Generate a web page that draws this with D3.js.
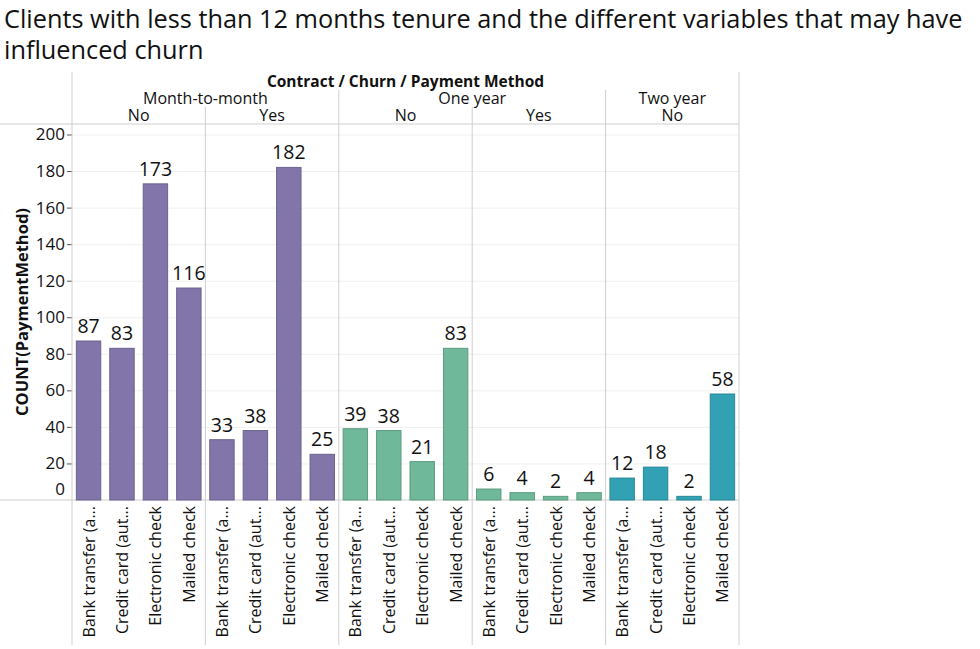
<!DOCTYPE html>
<html>
<head>
<meta charset="utf-8">
<script src="https://cdn.jsdelivr.net/npm/d3@7"></script>
<style>
  body { margin: 0; background: #fff; }
  text { font-family: "Open Sans", sans-serif; fill: #111; }
  .grid line { stroke: #f0f0f0; }
  .grid path { display: none; }
</style>
</head>
<body>
<svg id="chart" width="980" height="649"></svg>
<script>
// data
var methods = ["Bank transfer (automatic)", "Credit card (automatic)", "Electronic check", "Mailed check"];
var methodLabels = ["Bank transfer (a...", "Credit card (aut...", "Electronic check", "Mailed check"];
var contracts = ["Month-to-month", "One year", "Two year"];
var paneContract = ["Month-to-month", "Month-to-month", "One year", "One year", "Two year"];
var paneChurn = ["No", "Yes", "No", "Yes", "No"];
var mtmNo = [87, 83, 173, 116];
var mtmYes = [33, 38, 182, 25];
var oneNo = [39, 38, 21, 83];
var oneYes = [6, 4, 2, 4];
var twoNo = [12, 18, 2, 58];
var paneCounts = [mtmNo, mtmYes, oneNo, oneYes, twoNo];
var yTicks = [0, 20, 40, 60, 80, 100, 120, 140, 160, 180, 200];
var contractColor = {"Month-to-month": "#8175aa", "One year": "#6fb899", "Two year": "#31a1b3"};

var svg = d3.select("#chart");

// plot area edges (note: "top" clashes with window.top, so use a prefix)
var pLeft = 72, pRight = 739, pTop = 124, pBottom = 500;

// title
svg.append("text").attr("x", 4).attr("y", 28).style("font-size", "25.3px").text("Clients with less than 12 months tenure and the different variables that may have");
svg.append("text").attr("x", 4).attr("y", 59).style("font-size", "25.3px").text("influenced churn");

var paneIdx = d3.range(paneChurn.length);
var x0 = d3.scaleBand().domain(paneIdx).range([pLeft, pRight]);
var x1 = d3.scaleBand().domain(methods).range([0, x0.bandwidth()]).paddingInner(0.27).paddingOuter(0.13);
var y = d3.scaleLinear().domain([0, 205.75]).range([pBottom, pTop]);

// gridlines
svg.append("g").attr("class", "grid")
  .attr("transform", "translate(" + pLeft + ",0)")
  .call(d3.axisLeft(y).tickValues(yTicks.slice(1)).tickSize(-(pRight - pLeft)).tickFormat(""));

// y axis ticks + labels
var yAxis = svg.append("g").attr("transform", "translate(" + pLeft + ",0)")
  .call(d3.axisLeft(y).tickValues(yTicks).tickSize(5).tickPadding(2));
yAxis.select(".domain").remove();
yAxis.selectAll(".tick line").attr("stroke", "#555");
yAxis.selectAll(".tick text").style("font-size", "17px").attr("fill", "#111")
  .style("font-family", "'Open Sans', sans-serif");
// Tableau nudges the zero label up and hides its tick
yAxis.selectAll(".tick").filter(function(d){ return d === 0; })
  .each(function(){
    d3.select(this).select("line").remove();
    d3.select(this).select("text").attr("dy", "-0.3em");
  });

svg.append("text")
  .attr("transform", "translate(28," + ((pTop + pBottom) / 2) + ") rotate(-90)")
  .attr("text-anchor", "middle").style("font-size", "16.5px").style("font-weight", "bold")
  .text("COUNT(PaymentMethod)");

// frame lines
var lineCol = "#cfcfcf";
function hline(y_, x1_, x2_) {
  svg.append("line").attr("x1", x1_).attr("x2", x2_).attr("y1", y_).attr("y2", y_).attr("stroke", lineCol);
}
function vline(x_, y1_, y2_) {
  svg.append("line").attr("x1", x_).attr("x2", x_).attr("y1", y1_).attr("y2", y2_).attr("stroke", lineCol);
}
hline(pTop, 0, pRight);
hline(pBottom, 0, pRight);
vline(pLeft, 72, 645);
vline(pRight, 72, 645);
paneIdx.forEach(function(i) {
  if (i === 0) return;
  var xx = x0(i);
  var newContract = paneContract[i] !== paneContract[i - 1];
  vline(xx, newContract ? 90 : 107, 645);
});

// headers
svg.append("text").attr("x", (pLeft + pRight) / 2).attr("y", 87).attr("text-anchor", "middle")
  .style("font-size", "15.5px").style("font-weight", "bold").text("Contract  /  Churn  /  Payment Method");

contracts.forEach(function(c) {
  var idx = paneIdx.filter(function(i){ return paneContract[i] === c; });
  var xa = x0(idx[0]), xb = x0(idx[idx.length - 1]) + x0.bandwidth();
  svg.append("text").attr("x", (xa + xb) / 2).attr("y", 104).attr("text-anchor", "middle")
    .style("font-size", "16px").text(c);
});
paneIdx.forEach(function(i) {
  svg.append("text").attr("x", x0(i) + x0.bandwidth() / 2).attr("y", 121).attr("text-anchor", "middle")
    .style("font-size", "16px").text(paneChurn[i]);
});

// bars
var panes = svg.selectAll(".pane").data(paneIdx).enter().append("g")
  .attr("class", "pane")
  .attr("transform", function(i){ return "translate(" + x0(i) + ",0)"; });

panes.each(function(i) {
  var g = d3.select(this);
  var rows = methods.map(function(m, k){ return {method: m, label: methodLabels[k], value: paneCounts[i][k]}; });
  var col = contractColor[paneContract[i]];
  g.selectAll("rect").data(rows).enter().append("rect")
    .attr("x", function(d){ return x1(d.method); })
    .attr("width", x1.bandwidth())
    .attr("y", function(d){ return y(d.value); })
    .attr("height", function(d){ return y(0) - y(d.value); })
    .attr("fill", col)
    .attr("stroke", d3.color(col).darker(0.5))
    .attr("stroke-width", 1);
  g.selectAll(".val").data(rows).enter().append("text")
    .attr("class", "val")
    .attr("x", function(d){ return x1(d.method) + x1.bandwidth() / 2; })
    .attr("y", function(d){ return y(d.value) - 8; })
    .attr("text-anchor", "middle").style("font-size", "19.5px")
    .text(function(d){ return d.value; });
  g.selectAll(".cat").data(rows).enter().append("text")
    .attr("class", "cat")
    .attr("transform", function(d){
      return "translate(" + (x1(d.method) + x1.bandwidth() / 2 + 6) + "," + (pBottom + 6) + ") rotate(-90)";
    })
    .attr("text-anchor", "end").style("font-size", "16px")
    .text(function(d){ return d.label; });
});
</script>
</body>
</html>
